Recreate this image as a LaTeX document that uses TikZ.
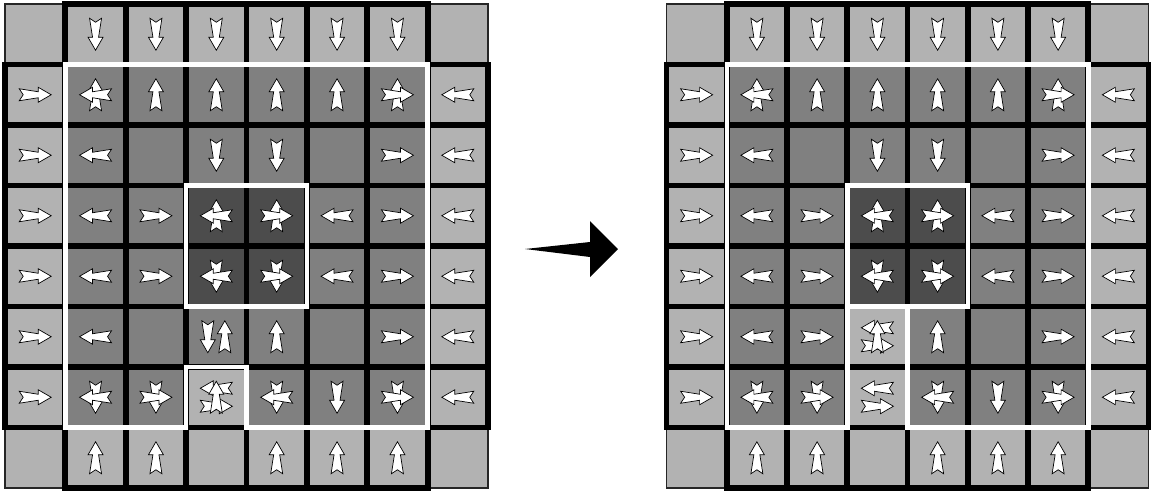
\documentclass[tikz,border=0pt]{standalone}
\definecolor{lightc}{gray}{0.7}
\definecolor{midc}{gray}{0.5}
\definecolor{darkc}{gray}{0.3}
\tikzset{
  gridline/.style={line width=5.8pt, line cap=rect, draw=black},
  wline/.style={line width=4.5pt, draw=white, line join=miter},
  cornerbox/.style={fill=lightc, draw=black!85, line width=1.2pt},
  pics/arr/.style={code={\filldraw[fill=white,draw=black,line width=0.7pt,line join=miter]
    (-16pt,6pt) -- (-12pt,0pt) -- (-16pt,-6pt) -- (3pt,-3pt) -- (3pt,-7.5pt) -- (16pt,0pt) -- (3pt,7.5pt) -- (3pt,3pt) -- cycle;}}
}
\newcommand\Arr[4][]{\pic[#1,rotate=#4] at (#2+0.5,#3+0.5) {arr};}
\newcommand\arR[2]{\Arr{#1}{#2}{0}}
\newcommand\arL[2]{\Arr{#1}{#2}{180}}
\newcommand\arU[2]{\Arr{#1}{#2}{90}}
\newcommand\arD[2]{\Arr{#1}{#2}{-90}}
\newcommand\arLU[2]{\arU{#1}{#2}\arL{#1}{#2}}
\newcommand\arRU[2]{\arU{#1}{#2}\arR{#1}{#2}}
\newcommand\arLD[2]{\arD{#1}{#2}\arL{#1}{#2}}
\newcommand\arRD[2]{\arD{#1}{#2}\arR{#1}{#2}}
\newcommand\pairDU[2]{\Arr[shift={(-8.5pt,0pt)}]{#1}{#2}{-90}\Arr[shift={(8.5pt,0pt)}]{#1}{#2}{90}}
\newcommand\pairLR[2]{\Arr[shift={(0pt,9pt)}]{#1}{#2}{180}\Arr[shift={(0pt,-9pt)}]{#1}{#2}{0}}
\newcommand\tripleLRU[2]{\pairLR{#1}{#2}\arU{#1}{#2}}
\newcommand\gridlines{%
  \draw[gridline] (1,0) -- (7,0);
  \foreach \k in {1,...,7} {\draw[gridline] (0,\k) -- (8,\k);}
  \draw[gridline] (1,8) -- (7,8);
  \draw[gridline] (0,1) -- (0,7);
  \foreach \k in {1,...,7} {\draw[gridline] (\k,0) -- (\k,8);}
  \draw[gridline] (8,1) -- (8,7);
}
\newcommand\corners{%
  \draw[cornerbox] (0,0) rectangle (1,1);
  \draw[cornerbox] (7,0) rectangle (8,1);
  \draw[cornerbox] (0,7) rectangle (1,8);
  \draw[cornerbox] (7,7) rectangle (8,8);
}
\newcommand\commonarrows{%
  \foreach \c in {1,...,6} {\arD{\c}{0}}
  \foreach \c in {1,2,4,5,6} {\arU{\c}{7}}
  \foreach \r in {1,...,6} {\arR{0}{\r}\arL{7}{\r}}
  \arLU{1}{1}\arU{2}{1}\arU{3}{1}\arU{4}{1}\arU{5}{1}\arRU{6}{1}
  \arL{1}{2}\arD{3}{2}\arD{4}{2}\arR{6}{2}
  \arL{1}{3}\arR{2}{3}\arLU{3}{3}\arRU{4}{3}\arL{5}{3}\arR{6}{3}
  \arL{1}{4}\arR{2}{4}\arLD{3}{4}\arRD{4}{4}\arL{5}{4}\arR{6}{4}
  \arL{1}{5}\arU{4}{5}\arR{6}{5}
  \arLD{1}{6}\arRD{2}{6}\arLD{4}{6}\arD{5}{6}\arRD{6}{6}
}
\begin{document}
\begin{tikzpicture}[x=1pt,y=-1pt]
\useasboundingbox (0,0) rectangle (1152,491);
% left grid
\begin{scope}[shift={(5,4)},x=60.375pt,y=-60.5pt]
  \fill[lightc] (0,0) rectangle (8,8);
  \corners
  \fill[midc] (1,1) rectangle (7,7);
  \fill[darkc] (3,3) rectangle (5,5);
  \fill[lightc] (3,6) rectangle (4,7);
  \gridlines
  \draw[wline] (1,1) -- (7,1) -- (7,7) -- (4,7) -- (4,6) -- (3,6) -- (3,7) -- (1,7) -- cycle;
  \draw[wline] (3,3) rectangle (5,5);
  \commonarrows
  \pairDU{3}{5}
  \tripleLRU{3}{6}
\end{scope}
% transition arrow
\coordinate (tail) at (525,249);
\coordinate (tip) at (618,249);
\fill[black] (tail) -- (590,242) -- (590,221) -- (tip) -- (590,277) -- (590,257) -- cycle;
% right grid
\begin{scope}[shift={(666.5,4)},x=60.25pt,y=-60.5pt]
  \fill[lightc] (0,0) rectangle (8,8);
  \corners
  \fill[midc] (1,1) rectangle (7,7);
  \fill[darkc] (3,3) rectangle (5,5);
  \fill[lightc] (3,5) rectangle (4,7);
  \gridlines
  \draw[wline] (1,1) -- (7,1) -- (7,7) -- (4,7) -- (4,5) -- (3,5) -- (3,7) -- (1,7) -- cycle;
  \draw[wline] (3,3) rectangle (5,5);
  \commonarrows
  \arR{2}{5}
  \tripleLRU{3}{5}
  \pairLR{3}{6}
\end{scope}
\end{tikzpicture}
\end{document}
